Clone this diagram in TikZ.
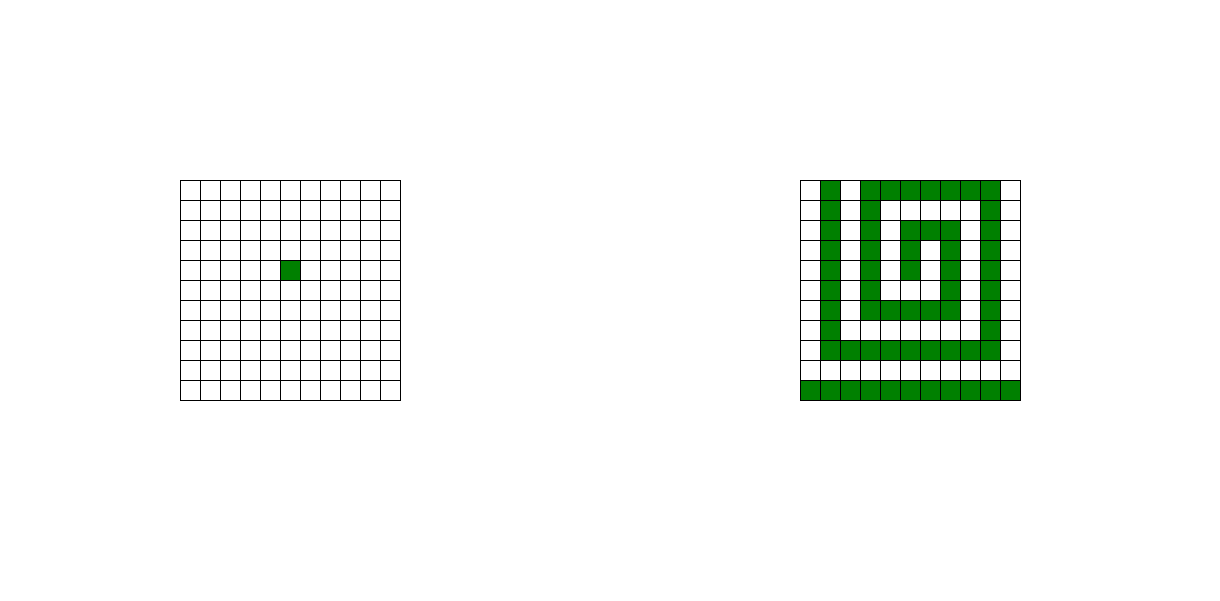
\documentclass[tikz,border=0pt]{standalone}
\usepackage{xcolor}
\usepackage{tikz}
\definecolor{cellgreen}{HTML}{008000}

\begin{document}
\begin{tikzpicture}[
    cellfill/.style={fill=cellgreen},
    gridline/.style={draw=black, line width=0.6pt}
  ]
    \useasboundingbox (0,0) rectangle (30.5,15);

    % left board: one filled cell
    \fill[cellfill] (7,8) rectangle (7.5,8.5);
    \draw[gridline, step=0.5] (4.5,5) grid (10,10.5);
    \draw[gridline] (4.5,5) rectangle (10,10.5);

    % right board: cells per row, counted from the top
    \foreach \r/\cols in {0/{1,3,4,5,6,7,8,9}, 1/{1,3,9}, 2/{1,3,5,6,7,9},
        3/{1,3,5,7,9}, 4/{1,3,5,7,9}, 5/{1,3,7,9}, 6/{1,3,4,5,6,7,9},
        7/{1,9}, 8/{1,2,3,4,5,6,7,8,9}, 10/{0,1,2,3,4,5,6,7,8,9,10}} {
      \foreach \c in \cols {
        \fill[cellfill] ({20+0.5*\c},{10-0.5*\r}) rectangle +(0.5,0.5);
      }
    }
    \draw[gridline, step=0.5] (20,5) grid (25.5,10.5);
    \draw[gridline] (20,5) rectangle (25.5,10.5);
  \end{tikzpicture}
\end{document}
